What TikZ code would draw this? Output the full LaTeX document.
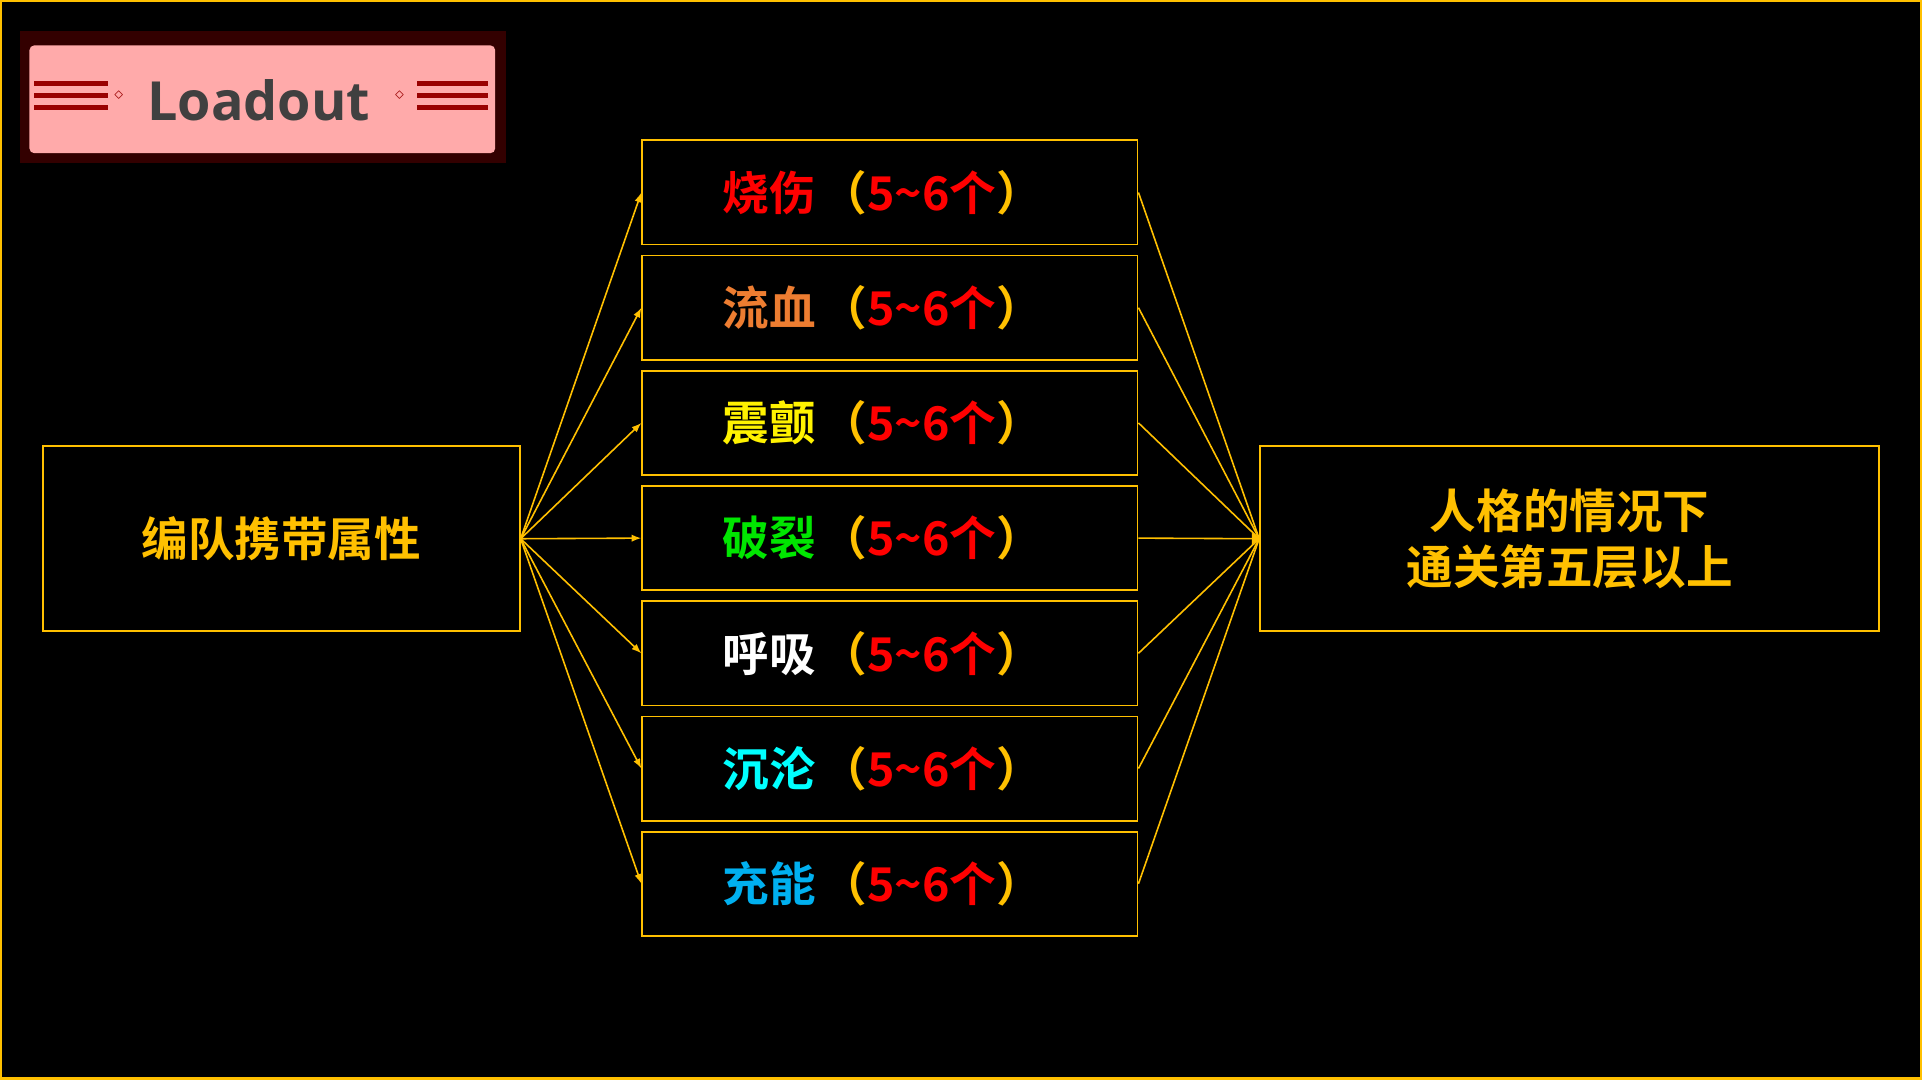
\documentclass[tikz,border=0pt]{standalone}
\usepackage{fontspec}
\setmainfont{Noto Sans CJK SC}[BoldFont={* Bold}]
\newfontfamily\cjkb{Noto Sans CJK SC Bold}
\newfontfamily\opensans{Open Sans}[BoldFont={* Bold}]
\usetikzlibrary{arrows.meta}
\definecolor{gold}{HTML}{FFC000}
\definecolor{cy}{HTML}{00FFFF}
\definecolor{bl}{HTML}{00B0F0}
\definecolor{og}{HTML}{ED7D31}
\definecolor{gr}{HTML}{00E600}
\begin{document}
\begin{tikzpicture}[x=1pt,y=-1pt,
  box/.style={draw=gold,line width=1.5pt,minimum width=404pt,minimum height=85pt,inner sep=0pt},
  lbl/.style={font=\cjkb\fontsize{38}{44}\selectfont},
  conn/.style={draw=gold,line width=1.3pt},
  arr/.style={conn,-{Latex[length=8pt,width=6pt]}}]
\fill[black] (0,0) rectangle (1568,881);
\useasboundingbox (0,0) rectangle (1568,881);
\draw[gold,line width=2pt] (1,1) rectangle (1567,880);
% badge
\fill[black!80!red] (16,25) rectangle (413,133);
\fill[red!35!white!85!pink,rounded corners=4pt] (24,37) rectangle (404,125);
\foreach \yy in {68,78,88}{
  \fill[red!60!black] (28,\yy-2) rectangle (88,\yy+2);
  \fill[red!60!black] (340,\yy-2) rectangle (398,\yy+2);}
\node[text=red!60!black,font=\fontsize{14}{14}\selectfont] (s1) at (97,78) {$\diamond$};
\node[text=red!60!black,font=\fontsize{14}{14}\selectfont] (s2) at (326,78) {$\diamond$};
\node[font=\opensans\bfseries\fontsize{44}{50}\selectfont,text=black!75] (ld) at (211,82) {Loadout};
% left / right
\node[box,minimum width=389pt,minimum height=151pt,text=gold,font=\cjkb\fontsize{38}{44}\selectfont] (L) at (229.5,439.5) {编队携带属性};
\node[box,minimum width=505pt,minimum height=151pt,text=gold,align=center,font=\cjkb\fontsize{38}{46}\selectfont] (R) at (1280.5,439.5) {人格的情况下\\通关第五层以上};
\foreach \n/\t/\c/\yy in {1/烧伤/red/157,2/流血/og/251,3/震颤/yellow/345,4/破裂/gr/439,5/呼吸/white/533,6/沉沦/cy/627,7/充能/bl/721}{
  \node[box] (m\n) at (726,\yy) {};
  \node[lbl,anchor=west,text=\c] (t\n) at (586,\yy) {\t\hspace{4pt}\textcolor{gold}{（}\textcolor{red}{5\char"007E 6个}\textcolor{gold}{）}};
  \draw[arr] (L.east) -- (m\n.west);
  \draw[conn] (m\n.east) -- (R.west);
}
\fill[gold] (R.west) ++(-6,-5) -- (R.west) -- ++(-6,5) -- cycle;
\end{tikzpicture}
\end{document}
